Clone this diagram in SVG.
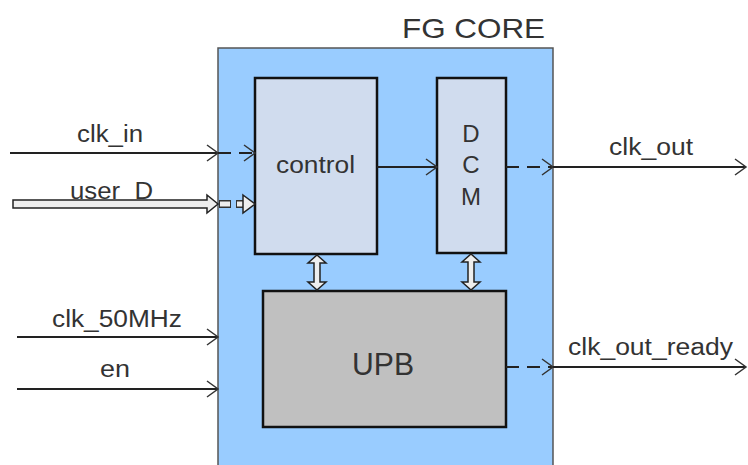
<svg xmlns="http://www.w3.org/2000/svg" width="748" height="465" viewBox="0 0 748 465">
<style>
text{font-family:"Liberation Sans",Arial,sans-serif;fill:#333;}
.lbl{font-size:23px;}
.blk{fill:#d0dcee;stroke:#111;stroke-width:2.5;}
.wire{stroke:#222;stroke-width:2;fill:none;}
.dash{stroke-dasharray:13 8;}
.hollow{fill:#eeeeee;stroke:#222;stroke-width:1.5;}
</style>
<defs>
<marker id="chev" markerUnits="userSpaceOnUse" markerWidth="16" markerHeight="20" viewBox="-14 -10 16 20" refX="0" refY="0" orient="auto" overflow="visible">
<path d="M-11,-8 L0,0 L-11,8" fill="none" stroke="#333" stroke-width="1.5"/>
</marker>
</defs>
<g id="fg_core">
<rect x="218" y="48" width="335" height="430" fill="#99ccff" stroke="#555" stroke-width="1.5"/>
<text x="402" y="38" font-size="28" textLength="143" lengthAdjust="spacingAndGlyphs">FG CORE</text>
</g>
<g id="control">
<rect class="blk" x="255" y="78" width="122" height="176"/>
<text class="lbl" x="276" y="173" textLength="79" lengthAdjust="spacingAndGlyphs">control</text>
</g>
<g id="dcm">
<rect class="blk" x="437" y="78" width="69" height="175"/>
<text x="471" y="142" font-size="24" text-anchor="middle">D</text>
<text x="471" y="173" font-size="24" text-anchor="middle">C</text>
<text x="471" y="205" font-size="24" text-anchor="middle">M</text>
</g>
<g id="upb">
<rect x="263" y="291" width="243" height="136" fill="#c0c0c0" stroke="#111" stroke-width="2.5"/>
<text x="352" y="375" font-size="31" textLength="62" lengthAdjust="spacingAndGlyphs">UPB</text>
</g>
<g id="labels">
<text class="lbl" x="77" y="142" textLength="66" lengthAdjust="spacingAndGlyphs">clk_in</text>
<text class="lbl" x="70" y="199" textLength="83" lengthAdjust="spacingAndGlyphs">user_D</text>
<text class="lbl" x="52" y="327" textLength="130" lengthAdjust="spacingAndGlyphs">clk_50MHz</text>
<text class="lbl" x="100" y="377" textLength="30" lengthAdjust="spacingAndGlyphs">en</text>
<text class="lbl" x="609" y="155" textLength="84" lengthAdjust="spacingAndGlyphs">clk_out</text>
<text class="lbl" x="568" y="355" textLength="165" lengthAdjust="spacingAndGlyphs">clk_out_ready</text>
</g>
<g id="connectors">
<line class="wire" x1="10" y1="153" x2="218" y2="153" marker-end="url(#chev)"/>
<line class="wire dash" x1="218" y1="153" x2="255" y2="153" marker-end="url(#chev)"/>
<polygon class="hollow" points="13,200 207,200 207,195 218,204 207,213 207,208 13,208"/>
<line x1="219" y1="204" x2="246" y2="204" stroke="#333" stroke-width="8" stroke-dasharray="12 5"/>
<line x1="220" y1="204" x2="245" y2="204" stroke="#eee" stroke-width="5" stroke-dasharray="10 7"/>
<polygon class="hollow" points="243,195 255,204 243,213"/>
<line class="wire" x1="17" y1="337" x2="218" y2="337" marker-end="url(#chev)"/>
<line class="wire" x1="17" y1="389" x2="218" y2="389" stroke="#666" stroke-width="2.5" marker-end="url(#chev)"/>
<line class="wire" x1="377" y1="167" x2="437" y2="167" marker-end="url(#chev)"/>
<line class="wire dash" x1="506" y1="167" x2="553" y2="167" marker-end="url(#chev)"/>
<line class="wire" x1="553" y1="167" x2="746" y2="167" marker-end="url(#chev)"/>
<line class="wire dash" x1="506" y1="367" x2="553" y2="367" marker-end="url(#chev)"/>
<line class="wire" x1="553" y1="367" x2="746" y2="367" marker-end="url(#chev)"/>
<polygon class="hollow" points="317,255 326,263 320,263 320,282 326,282 317,290 308,282 314,282 314,263 308,263"/>
<polygon class="hollow" points="471,254 480,262 474,262 474,282 480,282 471,290 462,282 468,282 468,262 462,262"/>
</g>
</svg>
